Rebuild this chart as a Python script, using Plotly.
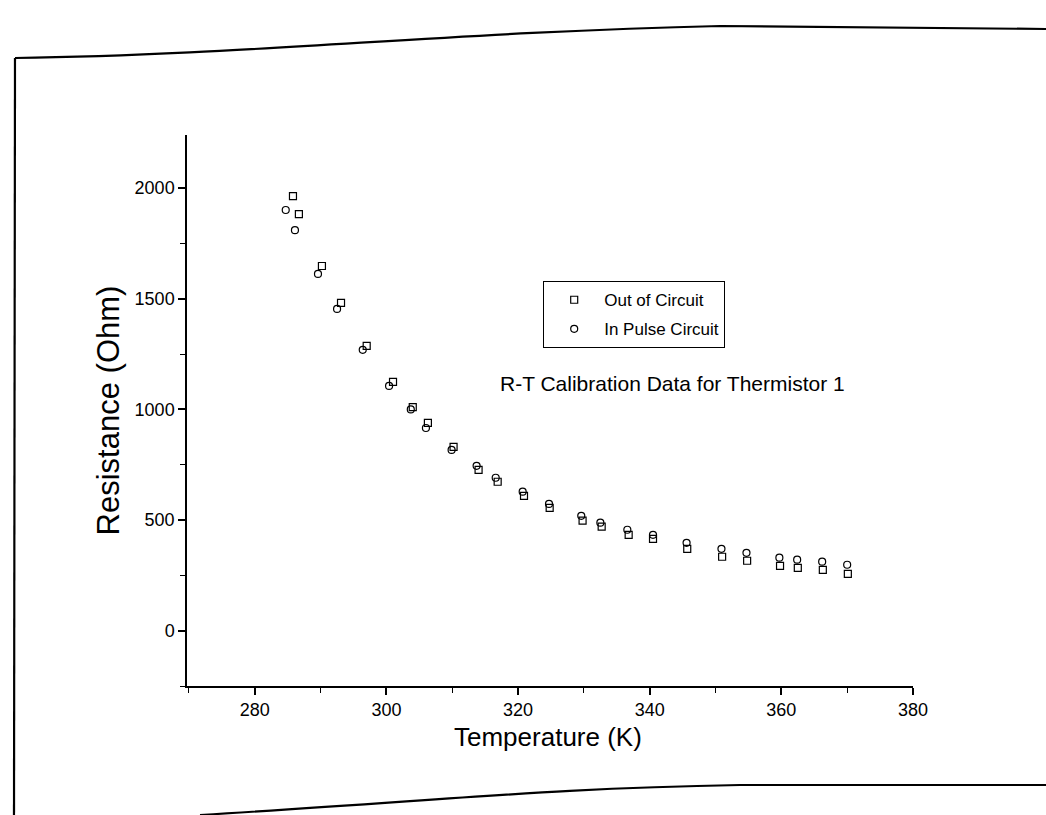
import plotly.graph_objects as go

# Out of Circuit (squares)
T_out = [285.8, 286.7, 290.2, 293.1, 297.0, 301.0, 304.0, 306.3, 310.2, 314.0, 316.9,
         320.9, 324.8, 329.8, 332.7, 336.8, 340.5, 345.7, 351.0, 354.8, 359.8, 362.5,
         366.3, 370.1]
R_out = [1964, 1882, 1648, 1481, 1287, 1124, 1010, 939, 831, 727, 673,
         609, 555, 497, 470, 433, 415, 370, 334, 316, 293, 284, 275, 257]

# In Pulse Circuit (circles)
T_in = [284.7, 286.1, 289.6, 292.5, 296.4, 300.4, 303.7, 306.0, 309.9, 313.7, 316.6,
        320.7, 324.7, 329.6, 332.5, 336.6, 340.5, 345.6, 350.9, 354.7, 359.7, 362.4,
        366.2, 370.0]
R_in = [1901, 1810, 1612, 1454, 1269, 1106, 1000, 916, 817, 745, 691,
        628, 573, 519, 488, 456, 433, 397, 370, 352, 330, 321, 312, 298]

x_range = [269.7, 380]
y_range = [-250, 2240]
x_ticks = [280, 300, 320, 340, 360, 380]
y_ticks = [0, 500, 1000, 1500, 2000]

W, H = 1046, 815
L, R, T, B = 187, 133, 135, 129
pw, ph = W - L - R, H - T - B


def px(x):
    return (x - L) / pw


def py(y):
    return (H - B - y) / ph


fig = go.Figure()
fig.add_trace(go.Scatter(
    x=T_out, y=R_out, mode="markers", name="Out of Circuit", legendgroup="a",
    marker=dict(symbol="square-open", size=7, color="black", line=dict(width=1.2))))
fig.add_trace(go.Scatter(
    x=T_in, y=R_in, mode="markers", name="In Pulse Circuit", legendgroup="b",
    marker=dict(symbol="circle-open", size=7, color="black", line=dict(width=1.2))))

font_main = "Liberation Sans, Arial, sans-serif"

axis_common = dict(
    showline=True, linecolor="black", linewidth=1.5, mirror=False,
    showgrid=False, zeroline=False, ticks="outside", ticklen=7, tickwidth=1.5,
    tickcolor="black", tickfont=dict(family=font_main, size=18, color="black"),
)

fig.update_xaxes(range=x_range, tickvals=x_ticks,
                 minor=dict(ticks="outside", ticklen=5, tickwidth=1.2, dtick=10,
                            tick0=270, tickcolor="black"),
                 **axis_common)
fig.update_yaxes(range=y_range, tickvals=y_ticks,
                 minor=dict(ticks="outside", ticklen=5, tickwidth=1.2, dtick=250,
                            tick0=0, tickcolor="black"),
                 title=dict(text="Resistance (Ohm)",
                            font=dict(family=font_main, size=31, color="black"),
                            standoff=6),
                 **axis_common)

# scanned page frame lines (decoration)
top_path = "M {} {} C {} {} {} {} {} {} L {} {}".format(
    px(15), py(58), px(250), py(55), px(450), py(32), px(720), py(26),
    px(1046), py(29))
bottom_path = "M {} {} C {} {} {} {} {} {} L {} {}".format(
    px(200), py(815), px(450), py(800), px(550), py(788), px(740), py(785),
    px(1046), py(785))
left_path = "M {} {} L {} {}".format(px(15), py(58), px(14), py(815))

shapes = []
for p in (top_path, bottom_path, left_path):
    shapes.append(dict(type="path", path=p, xref="paper", yref="paper",
                       line=dict(color="black", width=2.2)))

fig.update_layout(
    width=W, height=H,
    margin=dict(l=L, r=R, t=T, b=B, autoexpand=False),
    paper_bgcolor="white", plot_bgcolor="white",
    font=dict(family=font_main, color="black"),
    showlegend=True,
    legend=dict(x=px(543), y=py(281), xanchor="left", yanchor="top",
                bordercolor="black", borderwidth=1.2, bgcolor="white",
                font=dict(family=font_main, size=17, color="black"),
                itemwidth=50, tracegroupgap=4),
    shapes=shapes,
    annotations=[
        dict(text="R-T Calibration Data for Thermistor 1",
             x=px(672), y=py(383), xref="paper", yref="paper",
             showarrow=False, xanchor="center", yanchor="middle",
             font=dict(family=font_main, size=21, color="black")),
        dict(text="Temperature (K)",
             x=px(548), y=py(737), xref="paper", yref="paper",
             showarrow=False, xanchor="center", yanchor="middle",
             font=dict(family=font_main, size=26, color="black")),
    ],
)

fig.write_html("out.html")
